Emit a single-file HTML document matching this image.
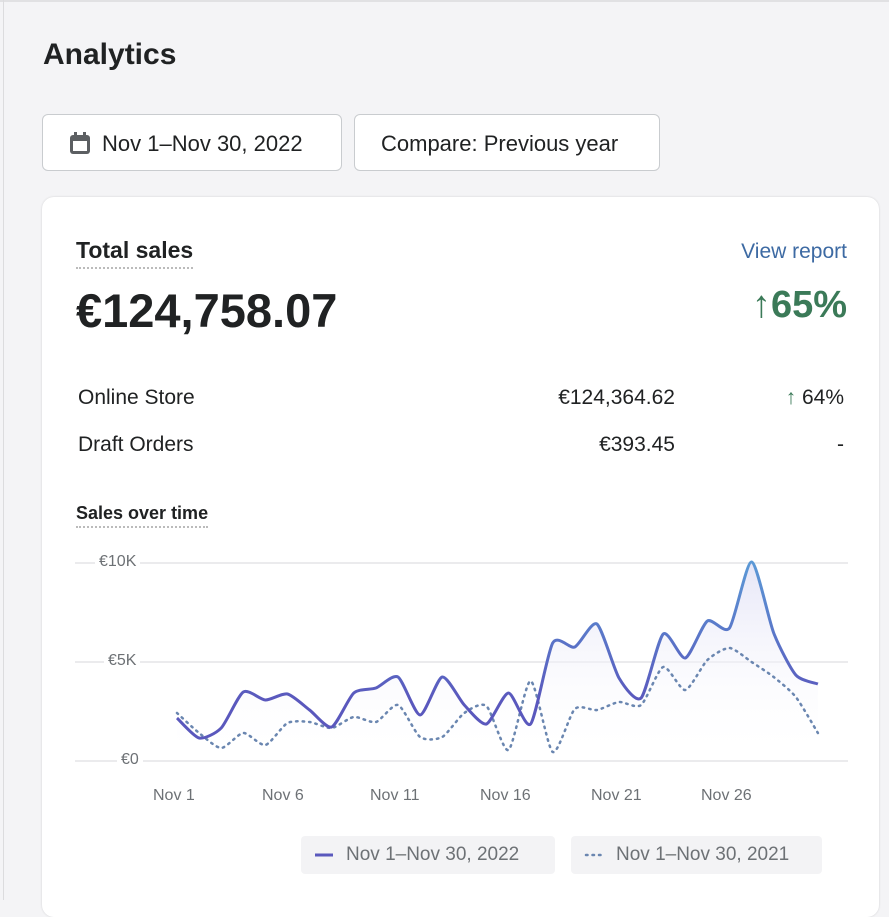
<!DOCTYPE html>
<html><head><meta charset="utf-8"><style>
body{margin:0;width:889px;height:900px;overflow:hidden;background:#f4f4f6;font-family:"Liberation Sans",sans-serif;color:#202223;position:relative}
.abs{position:absolute;white-space:nowrap}
.r{position:absolute;white-space:nowrap;text-align:right}
.btn{position:absolute;top:114px;height:57px;background:#fff;border:1px solid #c9cccf;border-radius:6px;box-sizing:border-box;font-size:22px;line-height:57px;color:#202223}
.card{position:absolute;left:42px;top:197px;width:837px;height:720px;background:#fff;border-radius:12px;box-shadow:0 0 2px rgba(0,0,0,.15)}
.dot{border-bottom:2px dotted #bbb}
.tick{position:absolute;font-size:16px;color:#6d7175;background:#fff;padding:0 4px}
.leg{position:absolute;top:836px;height:38px;background:#f3f3f5;border-radius:4px;font-size:19px;line-height:38px;color:#6d7175}
</style></head><body>
<div class="abs" style="left:0;top:0;width:889px;height:2px;background:#e1e1e3"></div>
<div class="abs" style="left:3px;top:0;width:1px;height:900px;background:#dcdcde"></div>
<div class="abs" style="left:43px;top:38px;font-size:30px;font-weight:600">Analytics</div>
<div class="btn" style="left:42px;width:300px"><svg style="position:absolute;left:26px;top:17px" width="22" height="23" viewBox="0 0 22 23"><rect x="1" y="3" width="20" height="19" rx="3" fill="#5c5f62"/><rect x="4" y="9" width="14" height="10" fill="#fff"/><rect x="5" y="0" width="3" height="5" fill="#5c5f62"/><rect x="14" y="0" width="3" height="5" fill="#5c5f62"/></svg><span style="position:absolute;left:59px">Nov 1–Nov 30, 2022</span></div>
<div class="btn" style="left:354px;width:306px"><span style="position:absolute;left:26px">Compare: Previous year</span></div>
<div class="card"></div>
<div class="abs dot" style="left:76px;top:237px;font-size:23px;font-weight:600;padding-bottom:3px">Total sales</div>
<div class="r" style="right:42px;top:240px;font-size:21px;color:#3d6aa3">View report</div>
<div class="abs" style="left:76px;top:283px;font-size:47px;font-weight:600">€124,758.07</div>
<div class="r" style="right:42px;top:284px;font-size:38px;font-weight:600;color:#3b7a58">↑65%</div>
<div class="abs" style="left:78px;top:386px;font-size:21px">Online Store</div>
<div class="r" style="right:214px;top:386px;font-size:21px">€124,364.62</div>
<div class="r" style="right:45px;top:386px;font-size:21px"><span style="color:#3b7a58">↑</span> 64%</div>
<div class="abs" style="left:78px;top:433px;font-size:21px">Draft Orders</div>
<div class="r" style="right:214px;top:433px;font-size:21px">€393.45</div>
<div class="r" style="right:45px;top:433px;font-size:21px">-</div>
<div class="abs dot" style="left:76px;top:503px;font-size:18px;font-weight:600;padding-bottom:2px">Sales over time</div>
<svg class="abs" style="left:0;top:0" width="889" height="900">
<defs>
<linearGradient id="st" gradientUnits="userSpaceOnUse" x1="0" y1="560" x2="0" y2="700"><stop offset="0" stop-color="#5b9ad6"/><stop offset="1" stop-color="#5a58bd"/></linearGradient>
<linearGradient id="fl" x1="0" y1="0" x2="0" y2="1"><stop offset="0" stop-color="#e6e6f7"/><stop offset="1" stop-color="#ffffff" stop-opacity="0"/></linearGradient>
</defs>
<line x1="75" y1="563" x2="848" y2="563" stroke="#ebebed" stroke-width="2"/>
<line x1="75" y1="662" x2="848" y2="662" stroke="#ebebed" stroke-width="2"/>
<line x1="75" y1="761" x2="848" y2="761" stroke="#ebebed" stroke-width="2"/>
<path id="fill" fill="url(#fl)"/>
<path id="dotp" fill="none" stroke="#6a86b0" stroke-width="2.5" stroke-dasharray="1.5 5" stroke-linecap="round"/>
<path id="sol" fill="none" stroke="url(#st)" stroke-width="3"/>
</svg>
<div class="tick" style="left:95px;top:553px">€10K</div>
<div class="tick" style="left:104px;top:652px">€5K</div>
<div class="tick" style="left:117px;top:751px">€0</div>
<div class="tick" style="left:149px;top:787px">Nov 1</div>
<div class="tick" style="left:258px;top:787px">Nov 6</div>
<div class="tick" style="left:366px;top:787px">Nov 11</div>
<div class="tick" style="left:476px;top:787px">Nov 16</div>
<div class="tick" style="left:587px;top:787px">Nov 21</div>
<div class="tick" style="left:697px;top:787px">Nov 26</div>
<div class="leg" style="left:301px;width:254px"><svg style="position:absolute;left:12px;top:17px" width="22" height="4"><line x1="2" y1="2" x2="20" y2="2" stroke="#5a58bd" stroke-width="3"/></svg><span style="position:absolute;left:45px">Nov 1–Nov 30, 2022</span></div>
<div class="leg" style="left:571px;width:251px"><svg style="position:absolute;left:12px;top:17px" width="22" height="4"><line x1="3" y1="2" x2="20" y2="2" stroke="#6a86b0" stroke-width="2.5" stroke-dasharray="1.5 5" stroke-linecap="round"/></svg><span style="position:absolute;left:45px">Nov 1–Nov 30, 2021</span></div>
<script>
var s=[718,738,728,692,700,694,710,727,693,688,677,715,677,705,724,693,724,643,647,624,678,698,634,658,621,628,562,633,675,684];
var d=[713,733,748,733,745,723,722,728,717,722,705,737,737,713,706,750,681,752,709,710,702,705,667,690,660,648,662,677,697,733];
function pts(a){return a.map(function(y,i){return [177+22.1*i,y]});}
function path(p){var r="M"+p[0][0]+","+p[0][1];for(var i=0;i<p.length-1;i++){var p0=p[i-1]||p[i],p1=p[i],p2=p[i+1],p3=p[i+2]||p2;var t=0.35/3;
r+=" C"+(p1[0]+(p2[0]-p0[0])*t)+","+(p1[1]+(p2[1]-p0[1])*t)+" "+(p2[0]-(p3[0]-p1[0])*t)+","+(p2[1]-(p3[1]-p1[1])*t)+" "+p2[0]+","+p2[1];}return r;}
var ps=path(pts(s));
document.getElementById("sol").setAttribute("d",ps);
document.getElementById("dotp").setAttribute("d",path(pts(d)));
document.getElementById("fill").setAttribute("d",ps+" L818,761 L177,761 Z");
</script>
</body></html>
